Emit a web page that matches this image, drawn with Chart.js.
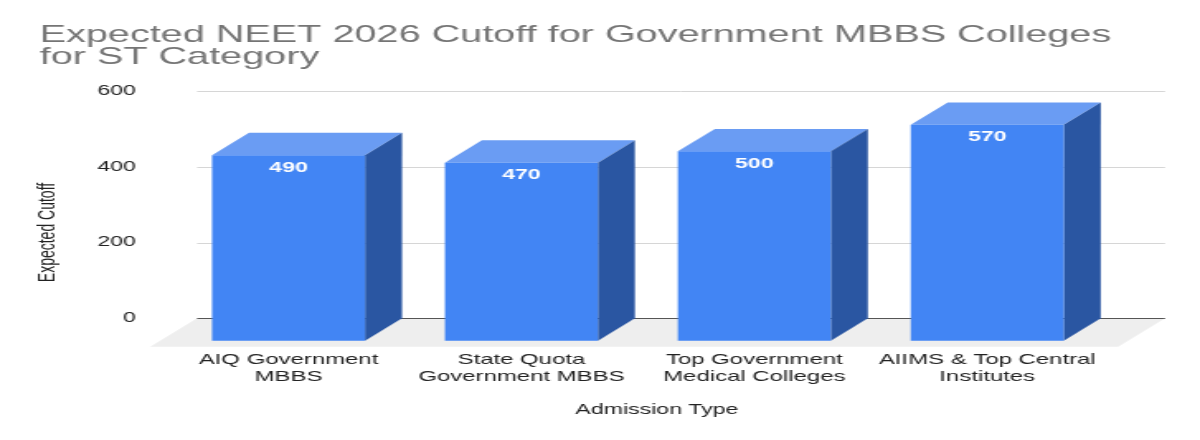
<!DOCTYPE html>
<html lang="en">
  <head>
    <meta charset="UTF-8" />
    <title>Expected NEET 2026 Cutoff - ST</title>
    <script src="https://cdn.jsdelivr.net/npm/chart.js"></script>
    <style>
      * {
        margin: 0;
        padding: 0;
      }
      body {
        background: #fff;
        overflow: hidden;
      }
      /* the source picture is a stretched export, so the canvas is drawn narrow and widened */
      #chart {
        display: block;
        width: 1200px;
        height: 440px;
      }
    </style>
  </head>
  <body>
    <canvas id="chart" width="727" height="440" style="width: 1200px; height: 440px"></canvas>

    <script>
      // ==== DATA ====
      const categories = [
        ['AIQ Government', 'MBBS'],
        ['State Quota', 'Government MBBS'],
        ['Top Government', 'Medical Colleges'],
        ['AIIMS & Top Central', 'Institutes']
      ];
      const cutoffs = [490, 470, 500, 570];
      const yTicks = [0, 200, 400, 600];

      const titleLines = ['Expected NEET 2026 Cutoff for Government MBBS Colleges', 'for ST Category'];
      const yTitle = 'Expected Cutoff';
      const xTitle = 'Admission Type';

      // ==== 3D look ====
      const DEPTH = 22.4; // bar depth (x left, y down)
      const FLOOR = 28.4; // floor depth
      const FONT = '"Liberation Sans", Arial, Helvetica, sans-serif';
      const colFront = '#4285f4';
      const colTop = '#6a9cf3';
      const colSide = '#2a56a2';

      const poly = (ctx, pts, fill) => {
        ctx.beginPath();
        ctx.moveTo(pts[0][0], pts[0][1]);
        for (let i = 1; i < pts.length; i++) ctx.lineTo(pts[i][0], pts[i][1]);
        ctx.closePath();
        ctx.fillStyle = fill;
        ctx.fill();
      };

      const bars3d = {
        id: 'bars3d',
        beforeDatasetsDraw(chart) {
          const ctx = chart.ctx;
          const ys = chart.scales.y;
          const area = chart.chartArea;
          const gl = area.left - 7.25;
          const gr = area.right + 14.75;
          const y0 = ys.getPixelForValue(0);

          ctx.save();
          // floor
          poly(ctx, [[gl, y0], [gr, y0], [gr - FLOOR, y0 + FLOOR], [gl - FLOOR, y0 + FLOOR]], '#eeeeee');

          // back wall grid lines
          ys.ticks.forEach(t => {
            const py = Math.round(ys.getPixelForValue(t.value)) + 0.5;
            ctx.beginPath();
            ctx.moveTo(gl, py);
            ctx.lineTo(gr, py);
            ctx.lineWidth = 1;
            ctx.strokeStyle = t.value === 0 ? '#555555' : '#d6d6d6';
            ctx.stroke();
          });

          // bars
          chart.getDatasetMeta(0).data.forEach(bar => {
            const l = bar.x - bar.width / 2;
            const r = bar.x + bar.width / 2;
            const top = bar.y;
            const base = bar.base;
            poly(ctx, [[l - DEPTH, top + DEPTH], [r - DEPTH, top + DEPTH], [r, top], [l, top]], colTop);
            poly(ctx, [[r - DEPTH, top + DEPTH], [r, top], [r, base], [r - DEPTH, base + DEPTH]], colSide);
            poly(ctx, [[l - DEPTH, top + DEPTH], [r - DEPTH, top + DEPTH], [r - DEPTH, base + DEPTH], [l - DEPTH, base + DEPTH]], colFront);
          });
          ctx.restore();
          return false;
        },
        afterDraw(chart) {
          const ctx = chart.ctx;
          const ds = chart.data.datasets[0];
          ctx.save();
          ctx.font = 'bold 14px ' + FONT;
          ctx.fillStyle = '#ffffff';
          ctx.textAlign = 'center';
          ctx.textBaseline = 'middle';
          chart.getDatasetMeta(0).data.forEach((bar, i) => {
            ctx.fillText(String(ds.data[i]), bar.x - DEPTH, bar.y + DEPTH + 12.5);
          });

          // axis titles
          ctx.font = '14px ' + FONT;
          ctx.fillStyle = '#222222';
          ctx.fillText(xTitle, 398, 410);
          ctx.translate(28.8, 232.5);
          ctx.rotate(-Math.PI / 2);
          ctx.fillText(yTitle, 0, 0);
          ctx.restore();
        }
      };

      const ctx = document.getElementById('chart').getContext('2d');
      const myChart = new Chart(ctx, {
        type: 'bar',
        data: {
          labels: categories,
          datasets: [
            {
              label: yTitle,
              data: cutoffs,
              backgroundColor: colFront,
              categoryPercentage: 1,
              barPercentage: 0.657
            }
          ]
        },
        options: {
          responsive: false,
          animation: false,
          devicePixelRatio: 1,
          layout: {
            padding: { left: 24, right: 35.95, top: 0, bottom: 0 }
          },
          plugins: {
            legend: { display: false },
            tooltip: { enabled: false },
            title: {
              display: true,
              text: titleLines,
              align: 'start',
              color: '#757575',
              font: { family: FONT, size: 24, weight: 'normal', lineHeight: 0.95 },
              padding: { top: 23.5, bottom: 22 }
            }
          },
          scales: {
            x: {
              grid: { display: false, drawTicks: false },
              border: { display: false },
              ticks: {
                color: '#222222',
                font: { family: FONT, size: 14.5, lineHeight: 1.17 },
                maxRotation: 0,
                autoSkip: false,
                padding: 33.5,
                labelOffset: -DEPTH
              },
              afterFit: s => {
                s.height = 121.7;
              }
            },
            y: {
              min: 0,
              max: 600,
              grid: { display: false, drawTicks: false },
              border: { display: false },
              ticks: {
                color: '#222222',
                font: { family: FONT, size: 14 },
                padding: 44.25
              },
              afterBuildTicks: s => {
                s.ticks = yTicks.map(v => ({ value: v }));
              },
              afterFit: s => {
                s.width = 102.65;
              }
            }
          }
        },
        plugins: [bars3d]
      });
    </script>
  </body>
</html>
